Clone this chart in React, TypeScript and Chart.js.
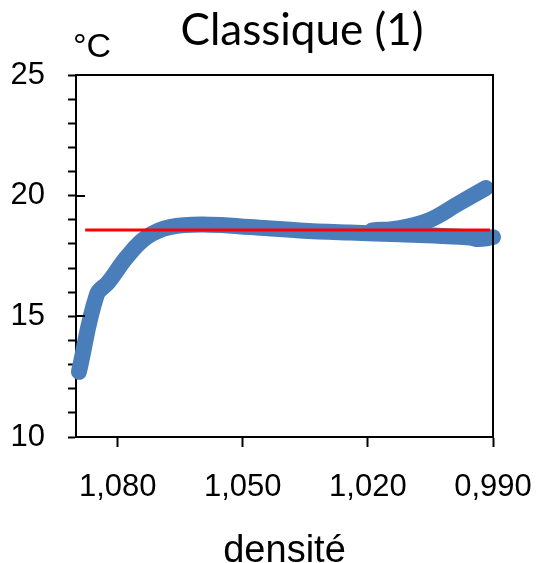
import React, { useEffect, useRef } from "react";
import { Chart, registerables } from "chart.js";

Chart.register(...registerables);

const TITLE = "Classique (1)";
const Y_UNIT = "°C";
const X_TITLE = "densité";

const X_TICKS = [1.08, 1.05, 1.02, 0.99];
const Y_TICKS = [10, 11, 12, 13, 14, 15, 16, 17, 18, 19, 20, 21, 22, 23, 24, 25];
const Y_LABELED = [10, 15, 20, 25];
const Y_MAJOR_INNER = [15, 20];

const mainDensity = [1.0893, 1.085, 1.0823, 1.0778, 1.073, 1.0675, 1.0579, 1.0483, 1.0363, 1.0243, 1.0123, 0.9955, 0.9935, 0.99];
const mainTemp = [12.7, 15.9, 16.4, 17.46, 18.29, 18.7, 18.8, 18.7, 18.56, 18.47, 18.4, 18.27, 18.2, 18.28];

const upperDensity = [1.019, 1.0123, 1.0051, 0.9985, 0.9917];
const upperTemp = [18.56, 18.66, 19.0, 19.65, 20.32];

const refDensity = [1.0878, 0.9907];
const refTemp = [18.58, 18.58];

const BLUE = "#4a7ebb";
const RED = "#ff0000";

const toPoints = (xs: number[], ys: number[]) => xs.map((x, i) => ({ x, y: ys[i] }));

const decor = {
  id: "decor",
  afterDatasetsDraw(chart: any) {
    const { ctx, chartArea: a, scales } = chart;
    ctx.save();
    ctx.strokeStyle = "#000";
    ctx.lineWidth = 2;
    ctx.beginPath();
    ctx.moveTo(a.left - 1, a.top);
    ctx.lineTo(a.right, a.top);
    ctx.lineTo(a.right, a.bottom + 1);
    ctx.stroke();
    ctx.beginPath();
    for (const v of Y_MAJOR_INNER) {
      const y = Math.round(scales.y.getPixelForValue(v));
      ctx.moveTo(a.left, y);
      ctx.lineTo(a.left + 9, y);
    }
    ctx.stroke();
    ctx.restore();
  },
  afterDraw(chart: any) {
    const { ctx } = chart;
    ctx.save();
    ctx.fillStyle = "#000";
    ctx.textBaseline = "alphabetic";
    ctx.textAlign = "center";
    ctx.font = "44px Lato";
    ctx.fillText(TITLE, 302, 45);
    ctx.textAlign = "left";
    ctx.font = "34px 'Liberation Sans'";
    ctx.fillText(Y_UNIT, 73, 57);
    ctx.restore();
  },
};

export default function App() {
  const ref = useRef<HTMLCanvasElement | null>(null);
  useEffect(() => {
    if (!ref.current) return;
    const tickFont = { family: "'Liberation Sans', Arial, sans-serif", size: 31 };
    const chart = new Chart(ref.current, {
      type: "scatter",
      data: {
        datasets: [
          {
            label: "ref",
            data: toPoints(refDensity, refTemp),
            showLine: true,
            borderColor: RED,
            borderWidth: 3,
            pointRadius: 0,
            tension: 0,
            order: 0,
            clip: false as any,
          },
          {
            label: "main",
            data: toPoints(mainDensity, mainTemp),
            showLine: true,
            borderColor: BLUE,
            borderWidth: 16,
            borderCapStyle: "round",
            borderJoinStyle: "round",
            pointRadius: 0,
            tension: 0.4,
            order: 1,
            clip: false as any,
          },
          {
            label: "upper",
            data: toPoints(upperDensity, upperTemp),
            showLine: true,
            borderColor: BLUE,
            borderWidth: 16,
            borderCapStyle: "round",
            borderJoinStyle: "round",
            pointRadius: 0,
            tension: 0.4,
            order: 2,
            clip: false as any,
          },
        ],
      },
      options: {
        responsive: false,
        animation: false,
        layout: { padding: { top: 75, left: 0, right: 44, bottom: 0 } },
        plugins: { legend: { display: false }, tooltip: { enabled: false }, title: { display: false } },
        elements: { line: { capBezierPoints: false } },
        scales: {
          x: {
            type: "linear",
            reverse: true,
            min: 0.99,
            max: 1.09,
            afterBuildTicks: (s: any) => {
              s.ticks = X_TICKS.map((v) => ({ value: v }));
            },
            afterFit: (s: any) => {
              s.height = 126;
              s.paddingLeft = 0;
              s.paddingRight = 0;
            },
            ticks: {
              autoSkip: false,
              maxRotation: 0,
              color: "#000",
              font: tickFont,
              padding: 22,
              callback: (v: any) => Number(v).toFixed(3).replace(".", ","),
            },
            grid: { drawOnChartArea: false, drawTicks: true, tickLength: 10, tickColor: "#000", tickWidth: 2 },
            border: { display: true, color: "#000", width: 2 },
            title: {
              display: true,
              text: X_TITLE,
              color: "#000",
              font: { family: "'Liberation Sans', Arial, sans-serif", size: 38, lineHeight: 0.6 },
              padding: 0,
            },
          },
          y: {
            type: "linear",
            min: 10,
            max: 25,
            afterBuildTicks: (s: any) => {
              s.ticks = Y_TICKS.map((v) => ({ value: v }));
            },
            afterFit: (s: any) => {
              s.width = 76;
              s.paddingTop = 0;
              s.paddingBottom = 0;
            },
            ticks: {
              autoSkip: false,
              color: "#000",
              font: tickFont,
              padding: 23,
              callback: (v: any) => (Y_LABELED.includes(Number(v)) ? String(v) : ""),
            },
            grid: { drawOnChartArea: false, drawTicks: true, tickLength: 8, tickColor: "#000", tickWidth: 2 },
            border: { display: true, color: "#000", width: 2 },
          },
        },
      },
      plugins: [decor],
    } as any);
    return () => chart.destroy();
  }, []);
  return (
    <div style={{ position: "fixed", left: 0, top: 0, width: 537, height: 563, background: "#fff" }}>
      <canvas ref={ref} width={537} height={563} style={{ display: "block" }} />
    </div>
  );
}
